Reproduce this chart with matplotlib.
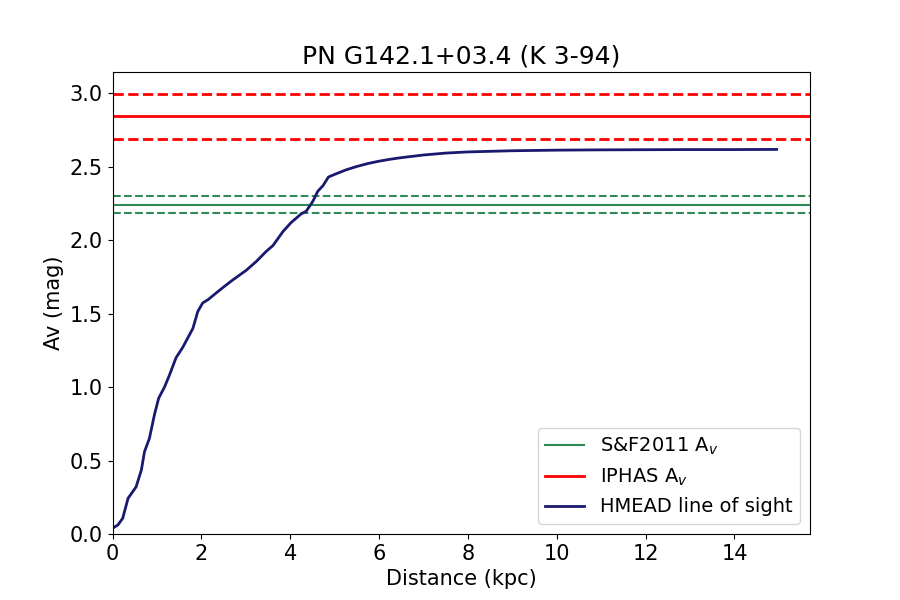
import numpy as np
import matplotlib
matplotlib.use("Agg")
import matplotlib.pyplot as plt

# HMEAD line of sight extinction
dist = [0.0, 0.12, 0.23, 0.35, 0.46, 0.53, 0.65, 0.72, 0.83, 0.95, 1.04, 1.17, 1.28,
        1.43, 1.58, 1.81, 1.92, 2.03, 2.15, 2.33, 2.52, 2.71, 3.01, 3.24, 3.46, 3.61,
        3.84, 4.02, 4.25, 4.36, 4.51, 4.62, 4.74, 4.86, 5.0, 5.25, 5.5, 5.75, 6.0, 6.25,
        6.5, 7.0, 7.5, 8.0, 9.0, 10.0, 11.0, 12.0, 13.0, 14.0, 14.95]
av = [0.039, 0.061, 0.107, 0.243, 0.29, 0.32, 0.436, 0.56, 0.65, 0.82, 0.925, 1.00, 1.08,
      1.20, 1.27, 1.40, 1.515, 1.573, 1.595, 1.64, 1.686, 1.73, 1.795, 1.856, 1.924, 1.963,
      2.06, 2.12, 2.18, 2.197, 2.265, 2.333, 2.372, 2.43, 2.448, 2.478, 2.502, 2.522, 2.538, 2.551,
      2.562, 2.580, 2.593, 2.601, 2.609, 2.613, 2.615, 2.616, 2.617, 2.617, 2.618]

sf_av = 2.243
sf_err = [2.304, 2.182]
iphas_av = 2.845
iphas_err = [2.997, 2.69]

plt.rcParams['font.size'] = 15
fig, ax = plt.subplots(figsize=(9, 6), dpi=100)

ax.axhline(sf_av, color='seagreen', lw=1.5, label='S&F2011 A$_v$')
for v in sf_err:
    ax.axhline(v, color='seagreen', lw=1.5, ls='--')
ax.axhline(iphas_av, color='red', lw=2, label='IPHAS A$_v$')
for v in iphas_err:
    ax.axhline(v, color='red', lw=2, ls='--')
ax.plot(dist, av, color='midnightblue', lw=2, label='HMEAD line of sight')

ax.set_xlim(0, 15.7)
ax.set_ylim(0, 3.145)
ax.set_xlabel('Distance (kpc)')
ax.set_ylabel('Av (mag)')
ax.set_title('PN G142.1+03.4 (K 3-94)', fontsize=18)
ax.legend(loc='lower right', fontsize=14)

plt.savefig('out.png')
